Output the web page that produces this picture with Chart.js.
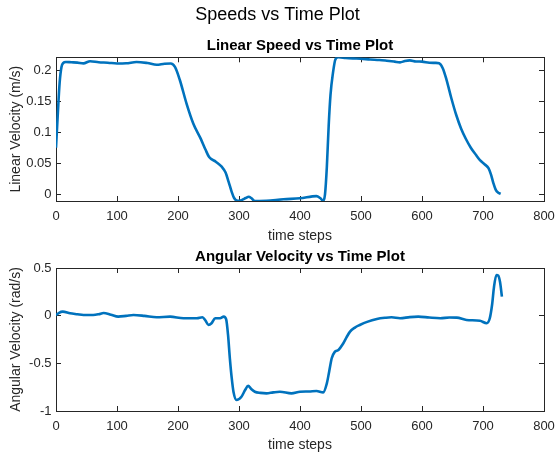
<!DOCTYPE html>
<html>
<head>
<meta charset="utf-8">
<title>Speeds vs Time Plot</title>
<script src="https://cdn.jsdelivr.net/npm/chart.js@4/dist/chart.umd.min.js"></script>
<style>
  html, body { margin: 0; padding: 0; background: #ffffff; }
  body { width: 555px; height: 455px; position: relative; overflow: hidden; }
  .panel { position: absolute; left: 0; width: 555px; }
  #top { top: 0; height: 245px; }
  #bottom { top: 245px; height: 210px; }
</style>
</head>
<body>
<div class="panel" id="top"><canvas id="linChart" width="555" height="245"></canvas></div>
<div class="panel" id="bottom"><canvas id="angChart" width="555" height="210"></canvas></div>
<script>
// Linear speed samples (time step, m/s)
const linT = [0, 3, 6, 9, 12, 16, 25, 35, 45, 56, 70, 85, 100, 115, 132, 150, 165, 178, 188, 195,
  203, 214, 225, 237, 245, 251, 262, 272, 278, 283, 288, 292, 298, 305, 311, 316, 320, 326, 345, 373,
  400, 427, 433, 438, 441, 444, 447, 450, 454, 458, 463, 475, 487, 500, 515, 530, 542, 555, 564, 572,
  580, 590, 600, 612, 622, 628, 634, 640, 648, 656, 664, 672, 680, 688, 695, 703, 709, 713, 717, 721,
  725, 729];
const linV = [0.075, 0.13, 0.18, 0.205, 0.2115, 0.213, 0.2125, 0.212, 0.2108, 0.2142, 0.2125, 0.2118, 0.2105, 0.2108, 0.213, 0.2112, 0.2085, 0.2102, 0.2105, 0.205,
  0.184, 0.146, 0.114, 0.09, 0.072, 0.06, 0.0525, 0.044, 0.035, 0.02, 0.004, -0.006, -0.0105, -0.009, -0.006, -0.004, -0.006, -0.011, -0.0105, -0.008,
  -0.0065, -0.003, -0.006, -0.0105, 0.0, 0.044, 0.11, 0.16, 0.195, 0.217, 0.2205, 0.2195, 0.2188, 0.2182, 0.217, 0.2162, 0.215, 0.2135, 0.2124, 0.2145,
  0.2155, 0.2138, 0.2135, 0.2118, 0.2115, 0.2108, 0.203, 0.185, 0.155, 0.128, 0.106, 0.089, 0.075, 0.064, 0.055, 0.048, 0.042, 0.032, 0.018, 0.007,
  0.0025, 0.0008];

// Angular velocity samples (time step, rad/s)
const angT = [0, 5, 11, 23, 35, 45, 61, 70, 78, 90, 102, 115, 127, 145, 165, 187, 209, 231, 240, 245,
  250, 255, 261, 269, 275, 279, 282, 285, 288, 291, 296, 304, 310, 315, 320, 326, 335, 345, 356, 367,
  386, 400, 415, 427, 438, 444, 448, 452, 457, 463, 470, 476, 482, 490, 498, 510, 526, 540, 550, 564,
  580, 594, 612, 630, 645, 657, 673, 695, 706, 711, 715, 718, 722, 725, 728, 731];
const angV = [0.005, 0.03, 0.042, 0.025, 0.015, 0.007, 0.007, 0.015, 0.028, 0.01, -0.01, -0.002, 0.007, -0.002, -0.017, -0.01, -0.027, -0.027, -0.017, -0.05,
  -0.098, -0.08, -0.027, -0.027, -0.01, -0.04, -0.2, -0.447, -0.65, -0.8, -0.885, -0.85, -0.78, -0.735, -0.77, -0.798, -0.81, -0.815, -0.805, -0.798,
  -0.815, -0.798, -0.795, -0.79, -0.805, -0.71, -0.58, -0.447, -0.38, -0.36, -0.3, -0.23, -0.168, -0.125, -0.098, -0.065, -0.035, -0.022, -0.017, -0.027,
  -0.015, -0.01, -0.02, -0.027, -0.02, -0.021, -0.045, -0.053, -0.08, -0.03, 0.12, 0.3, 0.427, 0.42, 0.35, 0.2];

// Axis tick values
const xTicks = [0, 100, 200, 300, 400, 500, 600, 700, 800];
const linYTicks = [0, 0.05, 0.1, 0.15, 0.2];
const angYTicks = [-1, -0.5, 0, 0.5];

const FONT = '"Liberation Sans", Arial, Helvetica, sans-serif';
const AXIS_COLOR = '#262626';
const LINE_COLOR = '#0072BD';
const TICK_LEN = -5; // negative length draws ticks inward

const fmt = v => String(+Number(v).toFixed(3));
const pts = (t, v) => t.map((x, i) => ({ x: x, y: v[i] }));
const fixedTicks = vals => scale => { scale.ticks = vals.map(v => ({ value: v })); };

function frame(opts) {
  // Builds the four boxed axes: labelled bottom/left, mirrored top/right.
  // The top axis carries the panel title, centred over the plot area.
  const grid = { drawOnChartArea: false, color: AXIS_COLOR, tickLength: TICK_LEN, lineWidth: 1 };
  const border = { display: true, color: AXIS_COLOR, width: 1 };
  return {
    x: {
      type: 'linear', position: 'bottom', min: 0, max: 800,
      afterBuildTicks: fixedTicks(xTicks),
      grid: grid, border: border,
      ticks: { color: AXIS_COLOR, padding: 14, maxRotation: 0, autoSkip: false,
               font: { family: FONT, size: 13, lineHeight: 1 }, callback: fmt },
      title: { display: true, text: 'time steps', color: AXIS_COLOR,
               font: { family: FONT, size: 14, lineHeight: 1 }, padding: { top: 0, bottom: opts.xTitlePad } },
      afterFit: s => { s.height = opts.xHeight; s.paddingLeft = 0; s.paddingRight = 0; }
    },
    x2: {
      type: 'linear', position: 'top', min: 0, max: 800,
      afterBuildTicks: fixedTicks(xTicks),
      grid: grid, border: border, ticks: { display: false },
      title: { display: true, text: opts.panelTitle, color: '#000000',
               font: { family: FONT, size: 15, weight: 'bold', lineHeight: 1 },
               padding: { top: opts.panelTitlePad, bottom: 0 } },
      afterFit: s => { s.height = opts.topHeight; s.paddingLeft = 0; s.paddingRight = 0; }
    },
    y: {
      type: 'linear', position: 'left', min: opts.yMin, max: opts.yMax,
      afterBuildTicks: fixedTicks(opts.yTicks),
      grid: grid, border: border,
      ticks: { color: AXIS_COLOR, padding: 9.5, font: { family: FONT, size: 13, lineHeight: 1 }, callback: fmt },
      title: { display: true, text: opts.yTitle, color: AXIS_COLOR,
               font: { family: FONT, size: 14, lineHeight: 1 }, padding: { top: 9, bottom: 0 } },
      afterFit: s => { s.width = 56; s.paddingTop = 0; s.paddingBottom = 0; }
    },
    y2: {
      type: 'linear', position: 'right', min: opts.yMin, max: opts.yMax,
      afterBuildTicks: fixedTicks(opts.yTicks),
      grid: grid, border: border, ticks: { display: false },
      afterFit: s => { s.width = 11; s.paddingTop = 0; s.paddingBottom = 0; }
    }
  };
}

function lineDataset(t, v) {
  return {
    data: pts(t, v),
    borderColor: LINE_COLOR,
    borderWidth: 2.6,
    pointRadius: 0,
    fill: false,
    cubicInterpolationMode: 'monotone',
    xAxisID: 'x', yAxisID: 'y'
  };
}

const common = {
  responsive: false,
  animation: false,
  events: [],
  layout: { padding: 0 }
};

new Chart(document.getElementById('linChart'), {
  type: 'line',
  data: { datasets: [lineDataset(linT, linV)] },
  options: Object.assign({}, common, {
    plugins: {
      legend: { display: false },
      tooltip: { enabled: false },
      title: { display: true, text: 'Speeds vs Time Plot', color: '#000000',
               font: { family: FONT, size: 18, weight: 'normal', lineHeight: 1 },
               padding: { top: 6, bottom: 0 } }
    },
    scales: frame({ yMin: -0.0108, yMax: 0.2205, yTicks: linYTicks,
                    yTitle: 'Linear Velocity (m/s)', xHeight: 44, xTitlePad: 2,
                    panelTitle: 'Linear Speed vs Time Plot', topHeight: 33.3, panelTitlePad: 14.5 })
  })
});

new Chart(document.getElementById('angChart'), {
  type: 'line',
  data: { datasets: [lineDataset(angT, angV)] },
  options: Object.assign({}, common, {
    plugins: {
      legend: { display: false },
      tooltip: { enabled: false },
      title: { display: false }
    },
    scales: frame({ yMin: -1, yMax: 0.5, yTicks: angYTicks,
                    yTitle: 'Angular Velocity (rad/s)', xHeight: 44, xTitlePad: 3,
                    panelTitle: 'Angular Velocity vs Time Plot', topHeight: 23, panelTitlePad: 4.2 })
  })
});
</script>
</body>
</html>
